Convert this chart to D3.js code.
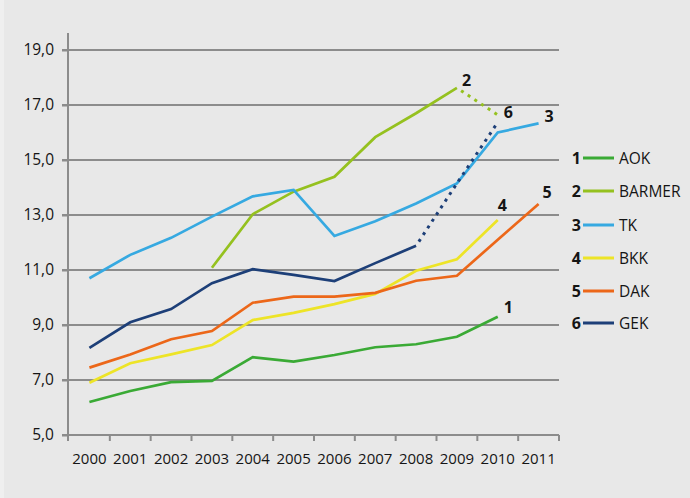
<!DOCTYPE html>
<html><head><meta charset="utf-8">
<script src="https://cdn.jsdelivr.net/npm/d3@7"></script>
<style>
html,body{margin:0;padding:0;background:#e8e8e8;}
svg{display:block;font-family:"Open Sans",sans-serif;}
</style></head>
<body>
<svg id="chart" width="690" height="498"></svg>
<script>
const years = ["2000","2001","2002","2003","2004","2005","2006","2007","2008","2009","2010","2011"];
const yTicks = [5,7,9,11,13,15,17,19];
const names = ["AOK","BARMER","TK","BKK","DAK","GEK"];
const colors = ["#3aaa35","#95c11f","#36a9e1","#ede427","#ec6719","#1d3f78"];
const aok    = [6.2, 6.6, 6.92, 6.97, 7.83, 7.67, 7.91, 8.19, 8.3, 8.57, 9.3, null];
const barmer = [null, null, null, 11.08, 13.03, 13.85, 14.39, 15.83, 16.7, 17.62, 16.64, null];
const tk     = [10.7, 11.55, 12.17, 12.94, 13.68, 13.91, 12.24, 12.77, 13.42, 14.15, 16.0, 16.33];
const bkk    = [6.9, 7.61, 7.93, 8.27, 9.18, 9.44, 9.76, 10.13, 10.97, 11.39, 12.82, null];
const dak    = [7.45, 7.93, 8.48, 8.78, 9.81, 10.03, 10.03, 10.17, 10.61, 10.79, 12.1, 13.4];
const gek    = [8.17, 9.1, 9.58, 10.52, 11.03, 10.82, 10.6, 11.25, 11.88, 14.15, 16.37, null];
// index from which the series is drawn dotted (null = none)
const dottedFrom = [null, 9, null, null, null, 8];
const series = [aok, barmer, tk, bkk, dak, gek];

const svg = d3.select("#chart");
svg.append("rect").attr("x",0).attr("y",0).attr("width",4).attr("height",498).attr("fill","#efefef");

const x = d3.scaleBand().domain(years).range([69, 559]);
const y = d3.scaleLinear().domain([5, 19]).range([435, 50]);
const cx = d => x(d) + x.bandwidth()/2;
const txt = "#151515";

// gridlines
svg.append("g").selectAll("line").data(yTicks.filter(t=>t>5)).join("line")
  .attr("x1",62).attr("x2",559).attr("y1",d=>y(d)).attr("y2",d=>y(d))
  .attr("stroke","#8c8c8c").attr("stroke-width",2);

// y axis
const ya = svg.append("g").attr("transform","translate(68,0)")
  .call(d3.axisLeft(y).tickValues(yTicks).tickSize(6).tickPadding(8)
  .tickFormat(d=>d3.format(".1f")(d).replace(".",",")));
ya.select(".domain").remove();
ya.append("line").attr("x1",0).attr("x2",0).attr("y1",33).attr("y2",441).attr("stroke","#8c8c8c").attr("stroke-width",2);
ya.selectAll(".tick line").attr("stroke","#8c8c8c").attr("stroke-width",2);
ya.selectAll(".tick text").attr("fill",txt).attr("font-size",15.5).attr("font-family","Open Sans");

// x axis
const xa = svg.append("g").attr("transform","translate(0,435)")
  .call(d3.axisBottom(x).tickSize(0).tickPadding(18));
xa.select(".domain").remove();
xa.append("line").attr("x1",62).attr("x2",559).attr("y1",0).attr("y2",0).attr("stroke","#8c8c8c").attr("stroke-width",2);
xa.selectAll(".tick text").attr("fill",txt).attr("font-size",15).attr("font-family","Open Sans");
xa.selectAll("line.edge").data(years).join("line").attr("class","edge")
  .attr("x1",d=>x(d)+x.bandwidth()).attr("x2",d=>x(d)+x.bandwidth())
  .attr("y1",0).attr("y2",6).attr("stroke","#8c8c8c").attr("stroke-width",2);

const line = d3.line().defined(d=>d.v!=null).x(d=>cx(d.year)).y(d=>y(d.v));

series.forEach((s,i)=>{
  const pts = s.map((v,j)=>({year:years[j], v}));
  const df = dottedFrom[i];
  const solid = df==null ? pts : pts.map((p,j)=> j<=df ? p : {year:p.year, v:null});
  svg.append("path").attr("d",line(solid)).attr("fill","none")
    .attr("stroke",colors[i]).attr("stroke-width",2.7).attr("stroke-linejoin","miter");
  if (df!=null){
    const dots = pts.map((p,j)=> j>=df ? p : {year:p.year, v:null});
    svg.append("path").attr("d",line(dots)).attr("fill","none")
      .attr("stroke",colors[i]).attr("stroke-width",3).attr("stroke-dasharray","3,5")
      .attr("stroke-dashoffset",-5);
  }
});

// end labels
const endLabels = [
  {n:"1", s:0, yr:"2010", dx:6, dy:-4},
  {n:"2", s:1, yr:"2009", dx:5, dy:-2},
  {n:"6", s:5, yr:"2010", dx:6, dy:-4},
  {n:"3", s:2, yr:"2011", dx:6, dy:-1},
  {n:"4", s:3, yr:"2010", dx:0, dy:-9},
  {n:"5", s:4, yr:"2011", dx:4, dy:-6}
];
svg.append("g").selectAll("text").data(endLabels).join("text")
  .attr("x",d=>cx(d.yr)+d.dx)
  .attr("y",d=>y(series[d.s][years.indexOf(d.yr)])+d.dy)
  .attr("font-size",16).attr("font-weight","bold").attr("fill",txt).text(d=>d.n);

// legend
const lg = svg.append("g");
const legY = [158,191,225,258,291,323];
names.forEach((n,i)=>{
  const g = lg.append("g").attr("transform",`translate(0,${legY[i]})`);
  g.append("text").attr("x",581).attr("y",6).attr("text-anchor","end").attr("font-size",16)
    .attr("font-weight","bold").attr("fill",txt).text(String(i+1));
  g.append("line").attr("x1",583).attr("x2",614).attr("y1",0).attr("y2",0)
    .attr("stroke",colors[i]).attr("stroke-width",3);
  g.append("text").attr("x",619).attr("y",5.5).attr("font-size",15.5).attr("fill",txt).text(n);
});
</script>
</body></html>
